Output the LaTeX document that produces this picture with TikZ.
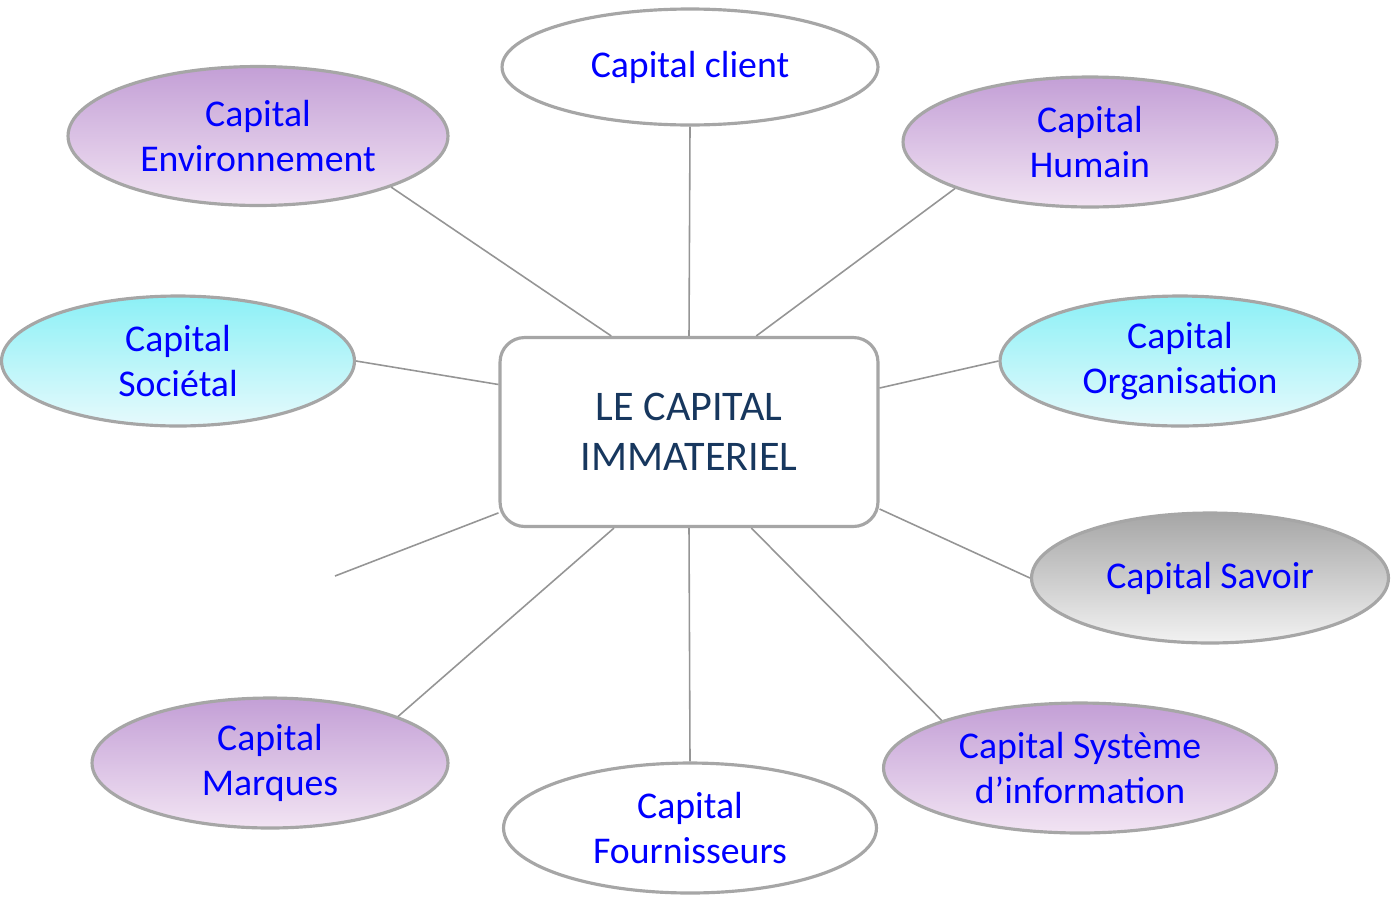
\documentclass[tikz,border=0pt]{standalone}
\usepackage{fontspec}
\setmainfont{Carlito}
\usepackage{xcolor}
\usetikzlibrary{shapes.geometric}

\definecolor{rimgray}{HTML}{A6A6A6}
\definecolor{txtblue}{HTML}{0000FF}
\definecolor{txtnavy}{HTML}{17375E}
\definecolor{mauvetop}{HTML}{C39FD6}
\definecolor{mauvebot}{HTML}{F2E4F3}
\definecolor{cyantop}{HTML}{8CF0F6}
\definecolor{cyanbot}{HTML}{E6FAFC}
\definecolor{greytop}{HTML}{A6A6A6}
\definecolor{greybot}{HTML}{F2F2F2}

\begin{document}
\begin{tikzpicture}[
    x=0.02cm, y=-0.02cm,
    capnode/.style={
        ellipse, draw=rimgray, line width=1.8pt,
        inner sep=0pt, align=center, text=txtblue,
        font=\fontsize{21.5}{25.6}\selectfont,
        minimum height=2.6cm
    },
    mauve/.style={capnode, top color=mauvetop, bottom color=mauvebot},
    cyanish/.style={capnode, top color=cyantop, bottom color=cyanbot},
    greyish/.style={capnode, top color=greytop, bottom color=greybot},
    plain/.style={capnode, fill=white},
    hub/.style={
        rectangle, rounded corners=14pt,
        draw=rimgray, line width=1.8pt, fill=white,
        minimum width=7.56cm, minimum height=3.78cm,
        align=center, text=txtnavy,
        font=\fontsize{24}{28.5}\selectfont
    },
    link/.style={draw=rimgray!90!black, line width=0.9pt}
]
\useasboundingbox (0,0) rectangle (1391,896);

\node[hub] (ctr) at (689,432) {LE CAPITAL\\IMMATERIEL};

\node[plain, minimum width=7.52cm, minimum height=2.32cm] (client) at (690,67) {Capital client};
\node[mauve, minimum width=7.6cm, minimum height=2.78cm] (envir) at (258,136) {Capital\\Environnement};
\node[mauve, minimum width=7.48cm] (humain) at (1090,142) {Capital\\Humain};
\node[cyanish, minimum width=7.06cm] (societal) at (178,361) {Capital\\Sociétal};
\node[cyanish, minimum width=7.2cm] (organis) at (1180,361) {Capital\\Organisation};
\node[greyish, minimum width=7.14cm] (savoir) at (1210,578) {Capital Savoir};
\node[mauve, minimum width=7.12cm] (marques) at (270,763) {Capital\\Marques};
\node[plain, minimum width=7.46cm] (fourn) at (690,828) {Capital\\Fournisseurs};
\node[mauve, minimum width=7.86cm] (sysinfo) at (1080,768) {Capital Système\\d’information};
\coordinate (loose) at (335,576);

% liaisons vers le centre
\draw[link] (envir.-21.8) -- (ctr.129);
\draw[link] (client.south) -- (ctr.north);
\draw[link] (humain.199.2) -- (ctr.55.2);
\draw[link] (societal.east) -- (ctr.166.3);
\draw[link] (organis.west) -- (ctr.13.7);
\draw[link] (savoir.west) -- (ctr.-22.9);
\draw[link] (loose) -- (ctr.203.4);
\draw[link] (marques.20.3) -- (ctr.232.6);
\draw[link] (fourn.north) -- (ctr.south);
\draw[link] (sysinfo.161.1) -- (ctr.-57.3);

\end{tikzpicture}
\end{document}
